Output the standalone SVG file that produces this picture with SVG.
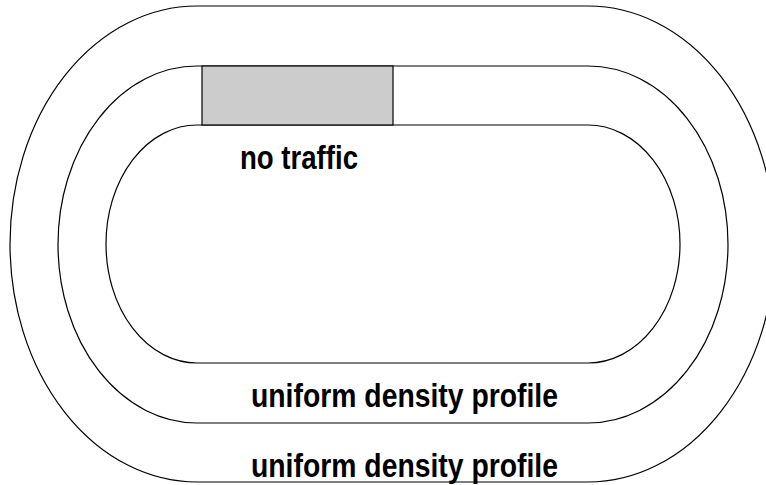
<svg xmlns="http://www.w3.org/2000/svg" width="766" height="485" viewBox="0 0 766 485">
<style>
.track{fill:none;stroke:#000;stroke-width:1.2}
.zone{fill:#cccccc;stroke:#000;stroke-width:1.2}
.lbl{font-family:"Liberation Sans",Arial,sans-serif;font-weight:bold;font-size:33.5px;fill:#000}
</style>
<rect x="0" y="0" width="766" height="485" fill="#fff"/>
<g id="outer-lane">
<path class="track" d="M197,6 H588 A187,238 0 0 1 588,482 H197 A187,238 0 0 1 197,6 Z"/>
</g>
<g id="middle-lane">
<path class="track" d="M197,66 H588 A140,178.5 0 0 1 588,423 H197 A139,178.5 0 0 1 197,66 Z"/>
</g>
<g id="inner-lane">
<path class="track" d="M197,125 H588 A92,119 0 0 1 588,363 H197 A91,119 0 0 1 197,125 Z"/>
</g>
<g id="no-traffic-zone">
<rect class="zone" x="202" y="66" width="191" height="59"/>
</g>
<g id="labels">
<text class="lbl" x="240" y="168.5" textLength="118" lengthAdjust="spacingAndGlyphs">no traffic</text>
<text class="lbl" x="251" y="406.5" textLength="307" lengthAdjust="spacingAndGlyphs">uniform density profile</text>
<text class="lbl" x="251" y="476.5" textLength="307" lengthAdjust="spacingAndGlyphs">uniform density profile</text>
</g>
<g id="connectors"></g>
</svg>
